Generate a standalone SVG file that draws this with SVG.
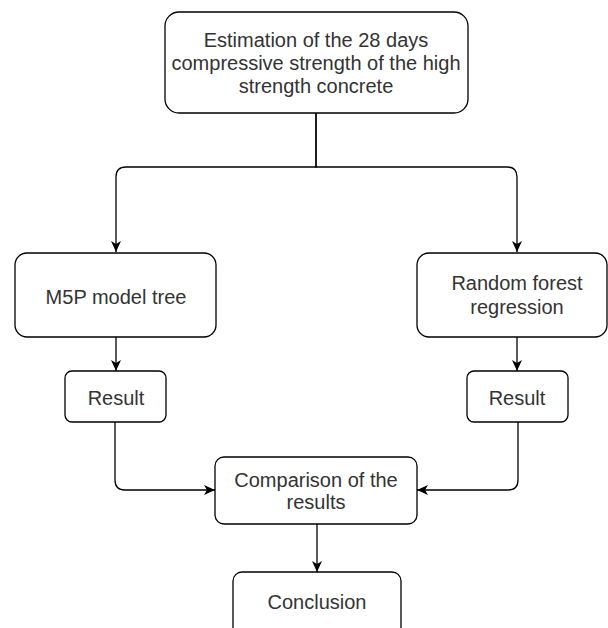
<svg xmlns="http://www.w3.org/2000/svg" width="608" height="628" viewBox="0 0 608 628">
<defs>
<marker id="arr" markerUnits="userSpaceOnUse" markerWidth="12" markerHeight="12" viewBox="0 0 12 12" refX="11" refY="6" orient="auto">
<path d="M0,1 L11,6 L0,11 L3,6 Z" fill="#000"/>
</marker>
</defs>
<style>
.box{fill:#fff;stroke:#000;stroke-width:1.3}
.t{font-family:"Liberation Sans",Arial,sans-serif;font-size:20px;fill:#333;text-anchor:middle}
.c{fill:none;stroke:#000;stroke-width:1.3}
</style>
<rect width="608" height="628" fill="#fff"/>
<g id="connectors">
<path class="c" d="M316,113 V167 H126 Q116,167 116,177 V252" marker-end="url(#arr)"/>
<path class="c" d="M316,113 V167 H507 Q517,167 517,177 V252" marker-end="url(#arr)"/>
<path class="c" d="M116,337 V371" marker-end="url(#arr)"/>
<path class="c" d="M517,337 V371" marker-end="url(#arr)"/>
<path class="c" d="M115,422 V480 Q115,490 125,490 H215" marker-end="url(#arr)"/>
<path class="c" d="M518,422 V480 Q518,490 508,490 H417" marker-end="url(#arr)"/>
<path class="c" d="M317,524 V572" marker-end="url(#arr)"/>
</g>
<g id="estimation">
<rect class="box" x="165" y="12" width="303" height="101" rx="14"/>
<text class="t" x="316" y="47">Estimation of the 28 days</text>
<text class="t" x="316" y="70">compressive strength of the high</text>
<text class="t" x="316" y="93">strength concrete</text>
</g>
<g id="m5p">
<rect class="box" x="15" y="253" width="201" height="84" rx="12"/>
<text class="t" x="116" y="304">M5P model tree</text>
</g>
<g id="rf">
<rect class="box" x="417" y="253" width="190" height="84" rx="12"/>
<text class="t" x="517" y="290">Random forest</text>
<text class="t" x="517" y="314">regression</text>
</g>
<g id="result-left">
<rect class="box" x="65" y="371" width="101" height="51" rx="7"/>
<text class="t" x="116" y="405">Result</text>
</g>
<g id="result-right">
<rect class="box" x="467" y="371" width="101" height="51" rx="7"/>
<text class="t" x="517" y="405">Result</text>
</g>
<g id="comparison">
<rect class="box" x="215" y="457" width="202" height="67" rx="9"/>
<text class="t" x="316" y="487">Comparison of the</text>
<text class="t" x="316" y="509">results</text>
</g>
<g id="conclusion">
<rect class="box" x="233" y="572" width="168" height="70" rx="9"/>
<text class="t" x="317" y="609">Conclusion</text>
</g>
</svg>
